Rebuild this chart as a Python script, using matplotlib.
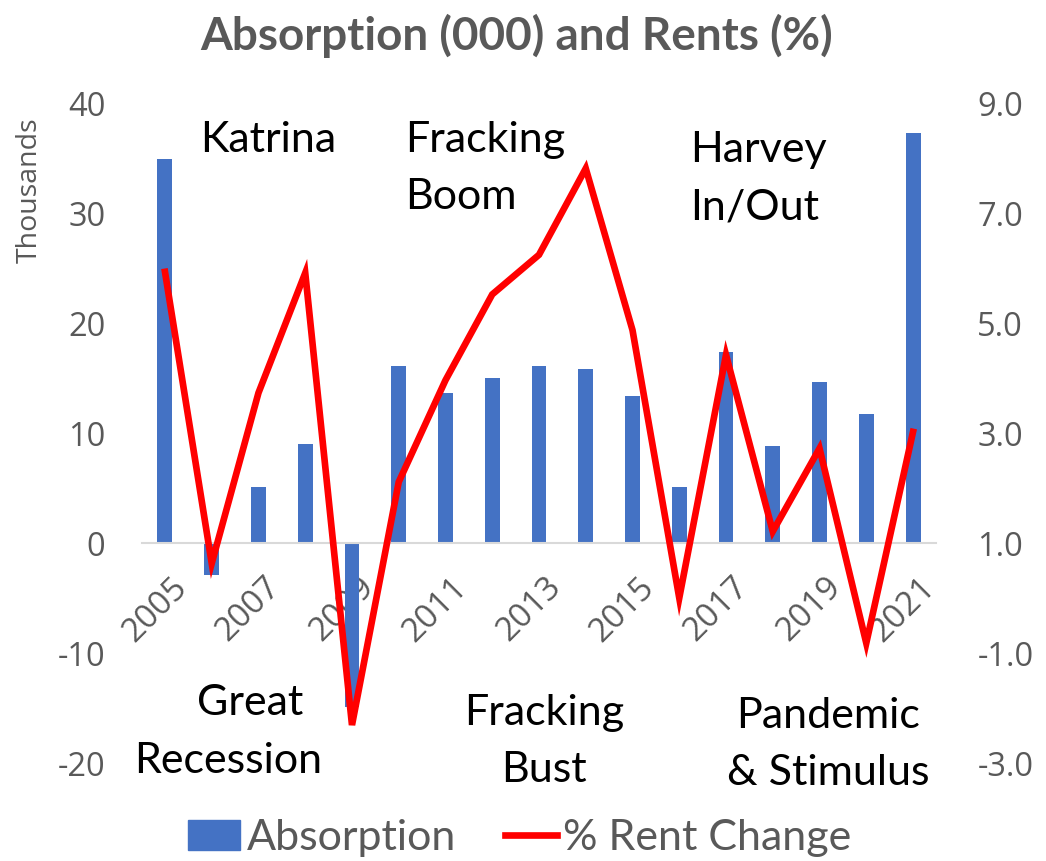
import matplotlib.pyplot as plt
import numpy as np
from matplotlib.patches import Patch
from matplotlib.lines import Line2D

# Annual absorption (thousands of units) and rent change (%)
years = list(range(2005, 2022))
absorption = [34.9, -2.9, 5.1, 9.0, -14.9, 16.1, 13.6, 15.0, 16.1, 15.8,
              13.4, 5.1, 17.4, 8.8, 14.6, 11.7, 37.3]
rent_change = [5.93, 0.63, 3.73, 5.91, -2.31, 2.11, 3.96, 5.52, 6.24, 7.81,
               4.87, 0.0, 4.42, 1.21, 2.72, -0.82, 3.02]

left_ticks = [-20, -10, 0, 10, 20, 30, 40]
right_ticks = [-3.0, -1.0, 1.0, 3.0, 5.0, 7.0, 9.0]

# event notes: (lines, x, first baseline, alignment) in figure pixels
notes = [
    (["Katrina"], 200, 152, "left"),
    (["Fracking", "Boom"], 405, 152, "left"),
    (["Harvey", "In/Out"], 690, 162, "left"),
    (["Great"], 250, 715, "center"),
    (["Recession"], 228, 773, "center"),
    (["Fracking", "Bust"], 544, 725, "center"),
    (["Pandemic", "& Stimulus"], 828, 728, "center"),
]

W, H = 1046, 861
gray = "#595959"
blue = "#4472c4"

fig = plt.figure(figsize=(W / 100, H / 100), dpi=100)
ax = fig.add_axes([141.6 / W, 1 - 763 / H, (936.4 - 141.6) / W, (763 - 103) / H])
x = np.arange(len(years))
ax.bar(x, absorption, width=0.32, color=blue, zorder=2)
ax.set_xlim(-0.5, len(years) - 0.5)
ax.set_ylim(-20, 40)
ax.set_yticks(left_ticks)
ax.set_yticklabels([str(t) for t in left_ticks], fontsize=23.5, color=gray, family="Open Sans")
ax.tick_params(axis="y", length=0, pad=26)

for s in ["top", "right", "left"]:
    ax.spines[s].set_visible(False)
ax.spines["bottom"].set_position(("data", 0))
ax.spines["bottom"].set_color("#d9d9d9")
ax.spines["bottom"].set_linewidth(1.5)

ax.set_xticks(x[::2] + 0.12)
ax.set_xticklabels([str(y) for y in years[::2]], rotation=45, ha="right",
                   va="top", rotation_mode="anchor", fontsize=24, color=gray,
                   family="Open Sans")
ax.tick_params(axis="x", length=0, pad=20)

ax2 = ax.twinx()
ax2.plot(x, rent_change, color="#ff0000", linewidth=4.8, solid_joinstyle="miter", zorder=3)
ax2.set_ylim(-3, 9)
ax2.set_yticks(right_ticks)
ax2.set_yticklabels(["%.1f" % t for t in right_ticks], fontsize=23.5, color=gray, family="Open Sans")
ax2.tick_params(axis="y", length=0, pad=29.5)
for s in ax2.spines.values():
    s.set_visible(False)

fig.text(517 / W, 1 - 36 / H, "Absorption (000) and Rents (%)", ha="center", va="center",
         fontsize=33, fontweight="bold", color=gray, family="Lato")
fig.text(30 / W, 1 - 190 / H, "Thousands", rotation=90, ha="center", va="center",
         fontsize=20.5, color=gray, family="Open Sans")

for lines, px, base, align in notes:
    for i, line in enumerate(lines):
        fig.text(px / W, 1 - (base + 57 * i) / H, line, ha=align, va="baseline",
                 fontsize=31, color="black", family="Lato")

handles = [Patch(facecolor=blue, edgecolor=blue),
           Line2D([0], [0], color="#ff0000", linewidth=4.8)]
fig.legend(handles, ["Absorption", "% Rent Change"], loc="center",
           bbox_to_anchor=(520 / W, 1 - 838 / H), ncol=2, frameon=False,
           prop={"family": "Lato", "size": 31}, labelcolor=gray,
           handlelength=1.2, handletextpad=0.15, columnspacing=1.15)

fig.savefig("out.png", dpi=100)
